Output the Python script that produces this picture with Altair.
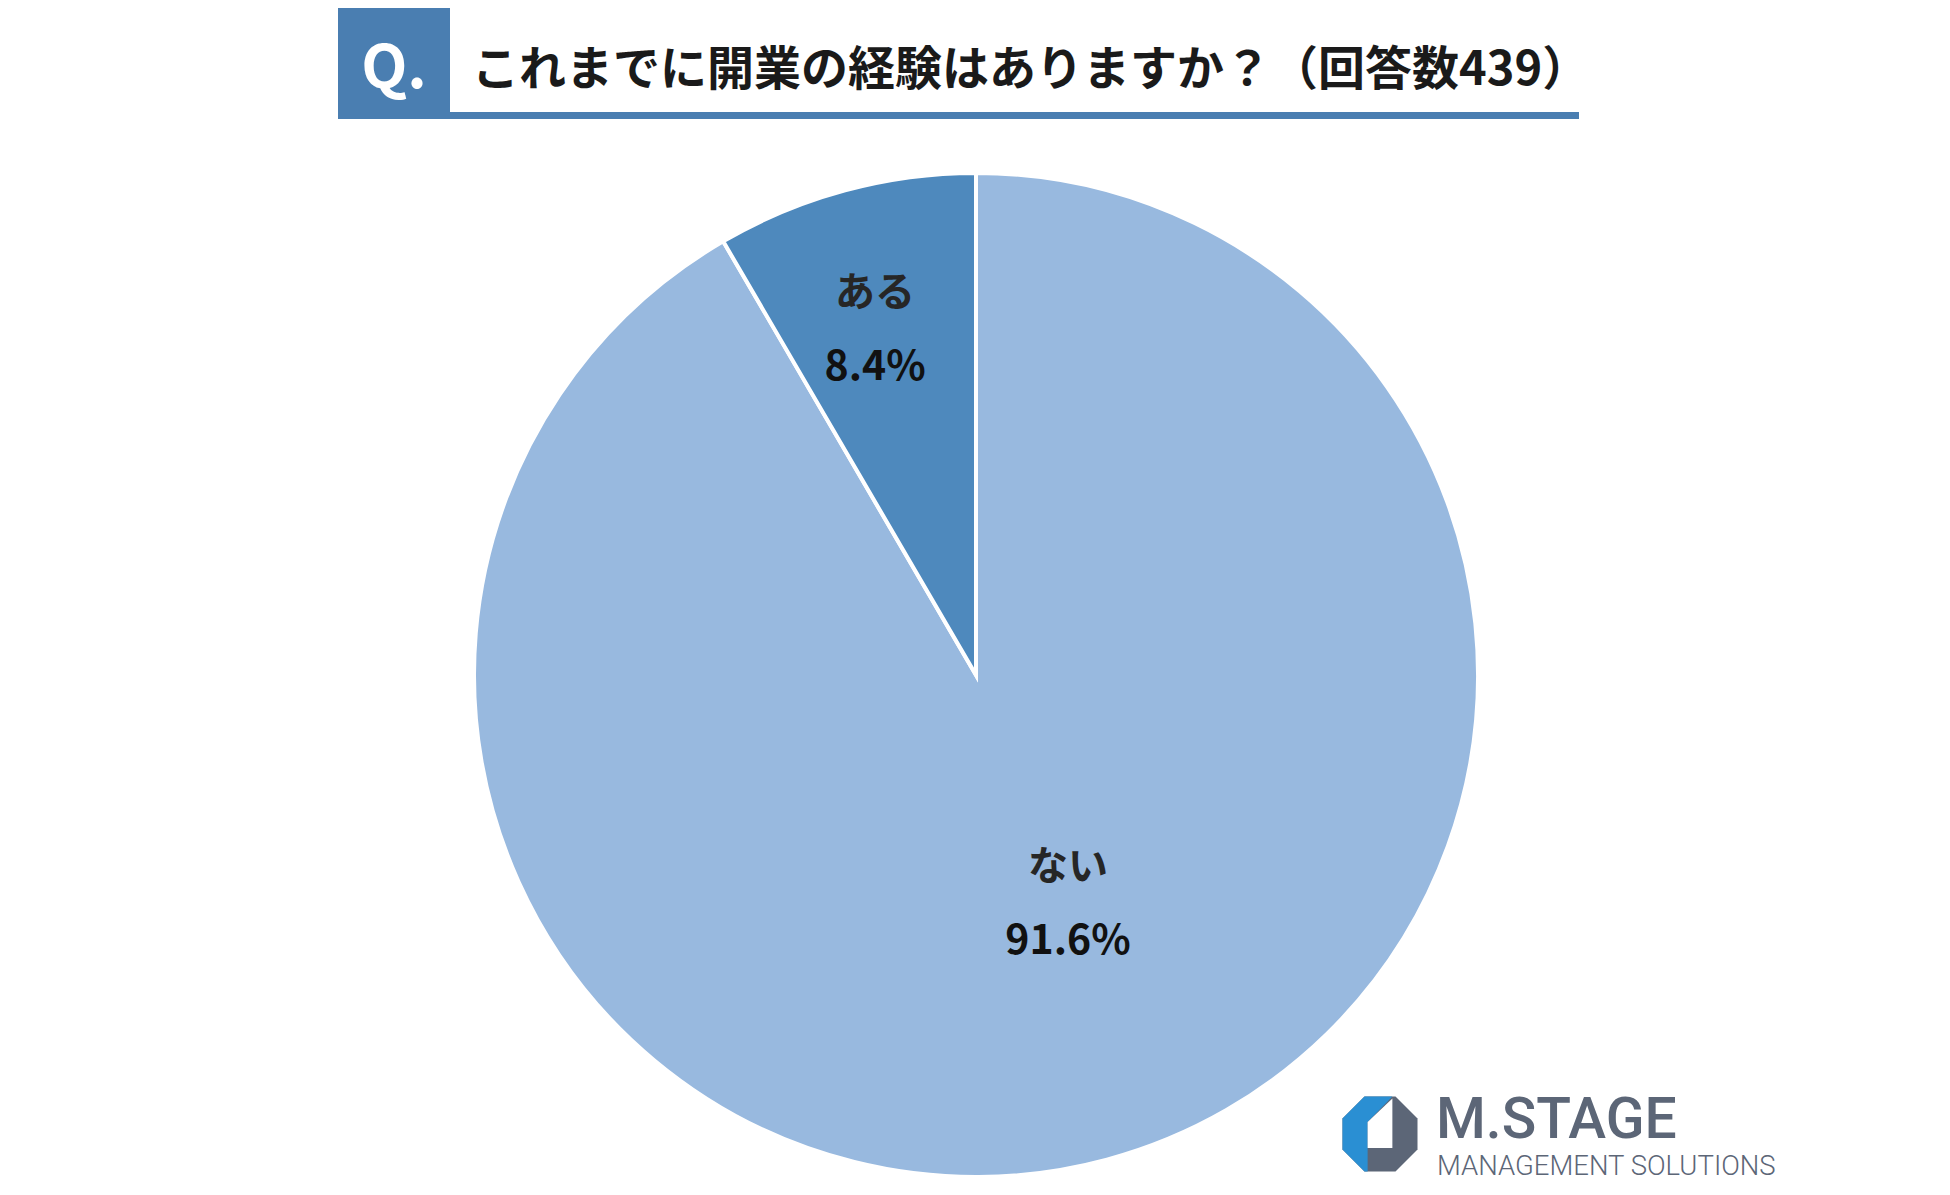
import altair as alt
import pandas as pd

# ---- data ----
categories = ["ない", "ある"]
percents = [91.6, 8.4]
pct_labels = ["91.6%", "8.4%"]
slice_colors = ["#98B9DF", "#4E89BD"]
title_text = "これまでに開業の経験はありますか？（回答数439）"
q_text = "Q."
logo_name = "M.STAGE"
logo_sub = "MANAGEMENT SOLUTIONS"

JP = "Noto Sans CJK JP"
BOX = "#4A7EB1"
LOGO_GRAY = "#5C6677"
LOGO_BLUE = "#2A8FD3"

df = pd.DataFrame({
    "cat": categories,
    "pct": percents,
    "label": pct_labels,
    "i": list(range(len(categories))),
})
one = pd.DataFrame({"t": [title_text]})

CX, CY, R = 968, 667, 502

base = alt.Chart(df)

pie = base.mark_arc(outerRadius=R, stroke="white", strokeWidth=4).encode(
    theta=alt.Theta("pct:Q", stack=True),
    order=alt.Order("i:Q"),
    color=alt.Color("cat:N", scale=alt.Scale(domain=categories, range=slice_colors), legend=None),
    x=alt.value(CX),
    y=alt.value(CY),
)

lab = (
    base.transform_joinaggregate(total="sum(pct)")
    .transform_window(cum="sum(pct)", sort=[alt.SortField("i")], frame=[None, 0])
    .transform_calculate(
        mid="(datum.cum - datum.pct/2) / datum.total * 2 * PI",
        lr=f"datum.pct > 50 ? {R} * 0.494 : {R} * 0.715",
        shift="datum.pct > 50 ? -0.116 : -0.021",
    )
    .transform_calculate(
        px=f"{CX} + datum.lr * sin(datum.mid + datum.shift)",
        py=f"{CY} - datum.lr * cos(datum.mid + datum.shift)",
    )
)

names = lab.mark_text(
    dy=-37, fontSize=40, fontWeight="bold", font=JP, color="#262626",
    align="center", baseline="middle",
).encode(
    x=alt.X("px:Q", scale=None), y=alt.Y("py:Q", scale=None), text="cat:N"
)
pcts = lab.mark_text(
    dy=37, fontSize=41, fontWeight="bold", font=JP, color="#111111",
    align="center", baseline="middle",
).encode(
    x=alt.X("px:Q", scale=None), y=alt.Y("py:Q", scale=None), text="label:N"
)

# ---- title ----
tb = alt.Chart(one)
qbox = tb.mark_rect(color=BOX).encode(
    x=alt.value(330), x2=alt.value(442), y=alt.value(0), y2=alt.value(111)
)
underline = tb.mark_rect(color=BOX).encode(
    x=alt.value(442), x2=alt.value(1571), y=alt.value(104), y2=alt.value(111)
)
qlabel = tb.mark_text(
    text=q_text, font=JP, fontSize=60, fontWeight="bold", color="white",
    align="center", baseline="middle",
).encode(x=alt.value(386), y=alt.value(62))
title = tb.mark_text(
    font=JP, fontSize=47, fontWeight="bold", color="#1a1a1a",
    align="left", baseline="middle",
).encode(x=alt.value(464), y=alt.value(63), text="t:N")

# ---- logo ----
octagon = "M-0.414,-1 L0.414,-1 L1,-0.414 L1,0.414 L0.414,1 L-0.414,1 L-1,0.414 L-1,-0.414 Z"
blue_part = "M-0.414,-1 L0.33,-1 L-0.33,-0.32 L-0.33,1 L-0.414,1 L-1,0.414 L-1,-0.414 Z"
white_part = "M-0.33,-0.32 L0.33,-0.95 L0.33,0.37 L-0.33,0.37 Z"
LX, LY, LS = 1372, 1126, 75 * 75

logo_layers = []
for shp, col in [(octagon, LOGO_GRAY), (blue_part, LOGO_BLUE), (white_part, "white")]:
    logo_layers.append(
        tb.mark_point(shape=shp, filled=True, size=LS, color=col, opacity=1, strokeWidth=0)
        .encode(x=alt.value(LX), y=alt.value(LY))
    )
logo_t1 = tb.mark_text(
    text=logo_name, font="Roboto", fontSize=57, fontWeight=500, color=LOGO_GRAY,
    align="left", baseline="alphabetic",
).encode(x=alt.value(1428), y=alt.value(1130))
logo_t2 = tb.mark_text(
    text=logo_sub, font="Roboto", fontSize=27.5, fontWeight=300, color=LOGO_GRAY,
    align="left", baseline="alphabetic",
).encode(x=alt.value(1429), y=alt.value(1167))

chart = alt.layer(
    pie, names, pcts, qbox, underline, qlabel, title, *logo_layers, logo_t1, logo_t2
).properties(
    width=1934, height=1179, padding=0, background="white"
).configure_view(strokeWidth=0)

chart.save("out.html", embed_options={"renderer": "svg", "actions": False})
